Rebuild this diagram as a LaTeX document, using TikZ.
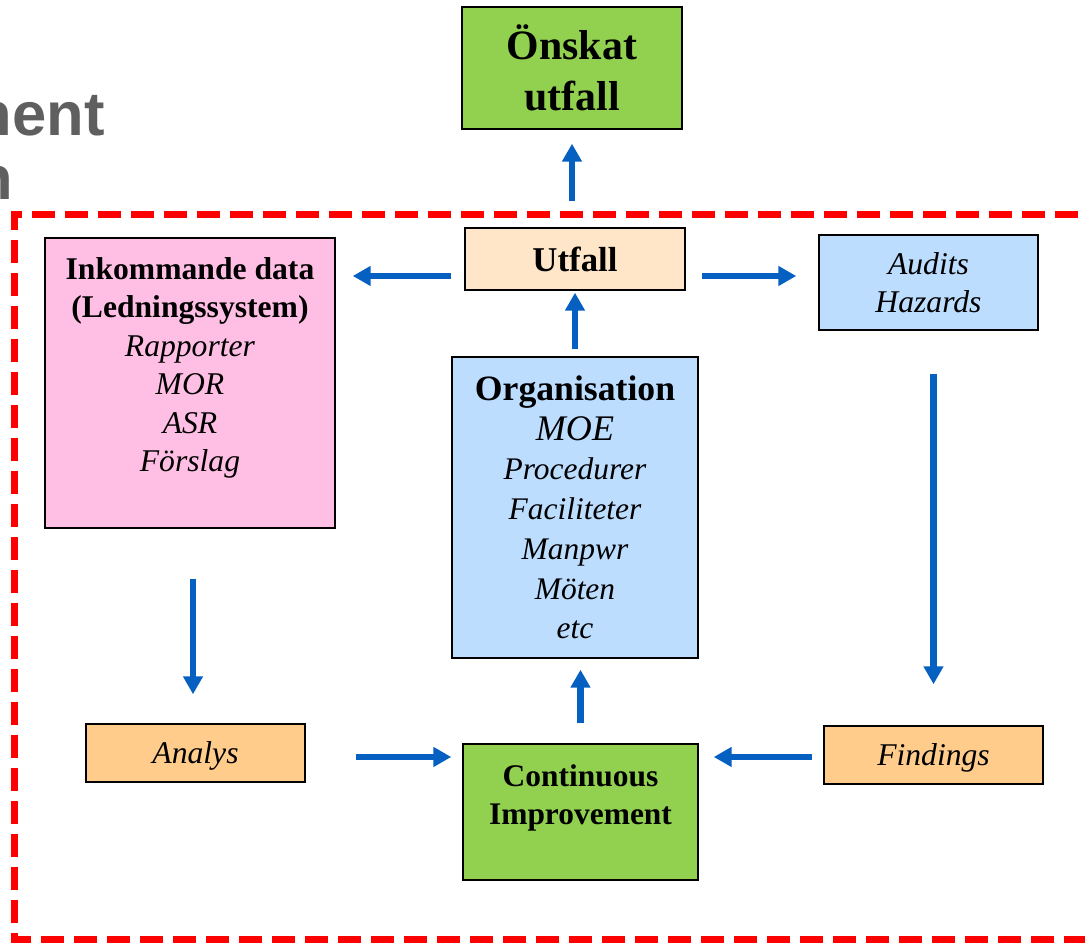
\documentclass[tikz,border=0pt]{standalone}
\usepackage{fontspec}
\setmainfont{Liberation Serif}
\newfontfamily\headfont{Liberation Sans}
\usepackage{tikz}
\usetikzlibrary{arrows.meta,positioning,calc}
\usepackage{xcolor}
\definecolor{boxgreen}{RGB}{146,208,80}
\definecolor{boxpeach}{RGB}{255,230,200}
\definecolor{boxpink}{RGB}{255,191,229}
\definecolor{boxblue}{RGB}{189,221,255}
\definecolor{boxorange}{RGB}{255,204,140}
\definecolor{flowblue}{RGB}{5,96,193}
\definecolor{headgray}{RGB}{95,95,95}

\begin{document}
\begin{tikzpicture}[
    box/.style={draw=black,line width=0.8pt,inner sep=0pt,align=center},
    flow/.style={flowblue,line width=0.13cm,-{Triangle[length=0.36cm,width=0.38cm]}},
    frame/.style={red,line width=0.14cm,dash pattern=on 0.46cm off 0.2cm},
    bodytext/.style={font=\fontsize{18}{21.9}\selectfont},
    headtext/.style={anchor=base east,inner sep=0pt,headgray,font=\headfont\fontsize{35}{40}\selectfont\bfseries}
]
    \useasboundingbox (0,0) rectangle (21.7,18.86);

    % Title, cut off at the left edge
    \node[headtext] (title1) at (2.10,16.14) {nent};
    \node[headtext] (title2) at (0.26,14.86) {n};

    % Dashed frame
    \draw[frame] (22.4,0.06) -- (0.29,0.06) -- (0.29,14.56) -- (22.4,14.56);

    % Top
    \node[box,fill=boxgreen,minimum width=4.4cm,minimum height=2.44cm,
          font=\fontsize{23.8}{29}\selectfont\bfseries] (onskat) at (11.44,17.50) {Önskat\\utfall};
    \node[box,fill=boxpeach,minimum width=4.4cm,minimum height=1.24cm,
          font=\fontsize{19.8}{24}\selectfont\bfseries] (utfall) at (11.50,13.68) {Utfall};

    % Incoming data
    \node[box,fill=boxpink,minimum width=5.8cm,minimum height=5.8cm] (inkommande) at (3.80,11.20) {};
    \node[anchor=north,inner sep=0pt,align=center,bodytext] (inktext) at ([yshift=-0.39cm]inkommande.north)
        {\textbf{Inkommande data}\\\textbf{(Ledningssystem)}\\\textit{Rapporter}\\\textit{MOR}\\\textit{ASR}\\\textit{Förslag}};

    % Audits
    \node[box,fill=boxblue,minimum width=4.38cm,minimum height=1.9cm,
          font=\fontsize{18}{21.6}\selectfont\itshape] (audits) at (18.57,13.21) {Audits\\Hazards};

    % Organisation
    \node[box,fill=boxblue,minimum width=4.92cm,minimum height=6.02cm,
          font=\fontsize{17.9}{22.6}\selectfont\itshape] (org) at (11.50,8.71)
        {{\fontsize{20.3}{22.6}\selectfont\bfseries\upshape Organisation}\\{\fontsize{20.5}{22.6}\selectfont MOE}\\Procedurer\\Faciliteter\\Manpwr\\Möten\\etc};

    % Bottom row
    \node[box,fill=boxorange,minimum width=4.38cm,minimum height=1.16cm,text depth=0pt,
          font=\fontsize{18}{21.9}\selectfont\itshape] (analys) at (3.91,3.80) {Analys};
    \node[box,fill=boxgreen,minimum width=4.7cm,minimum height=2.72cm] (ci) at (11.61,2.62) {};
    \node[anchor=north,inner sep=0pt,align=center,font=\fontsize{17.9}{21.8}\selectfont\bfseries] (citext)
        at ([yshift=-0.42cm]ci.north) {Continuous\\Improvement};
    \node[box,fill=boxorange,minimum width=4.38cm,minimum height=1.16cm,text depth=0pt,
          font=\fontsize{18}{21.9}\selectfont\itshape] (findings) at (18.67,3.76) {Findings};

    % Arrows
    \draw[flow,shorten <=0.52cm,shorten >=0.28cm] (utfall.north -| onskat.south) -- (onskat.south);
    \draw[flow,shorten <=0.26cm,shorten >=0.34cm] ([yshift=-0.34cm]utfall.west) -- ([yshift=-0.34cm]utfall.west -| inkommande.east);
    \draw[flow,shorten <=0.32cm,shorten >=0.44cm] ([yshift=-0.34cm]utfall.east) -- ([yshift=-0.34cm]utfall.east -| audits.west);
    \draw[flow,shorten <=0.14cm,shorten >=0.04cm] (org.north) -- (utfall.south);
    \draw[flow,shorten <=0.4cm,shorten >=0.22cm] (ci.north) -- (ci.north |- org.south);
    \draw[flow,shorten <=1.0cm,shorten >=0.22cm] ([yshift=-0.08cm]analys.east) -- ([yshift=-0.08cm]analys.east -| ci.west);
    \draw[flow,shorten <=0.22cm,shorten >=0.30cm] ([yshift=-0.04cm]findings.west) -- ([yshift=-0.04cm]findings.west -| ci.east);
    \draw[flow,shorten <=0.86cm,shorten >=0.82cm] (findings.north |- audits.south) -- (findings.north);
    \draw[flow,shorten <=1.0cm,shorten >=0.58cm] ([xshift=0.06cm]inkommande.south) -- ([xshift=0.06cm]inkommande.south |- analys.north);
\end{tikzpicture}
\end{document}
